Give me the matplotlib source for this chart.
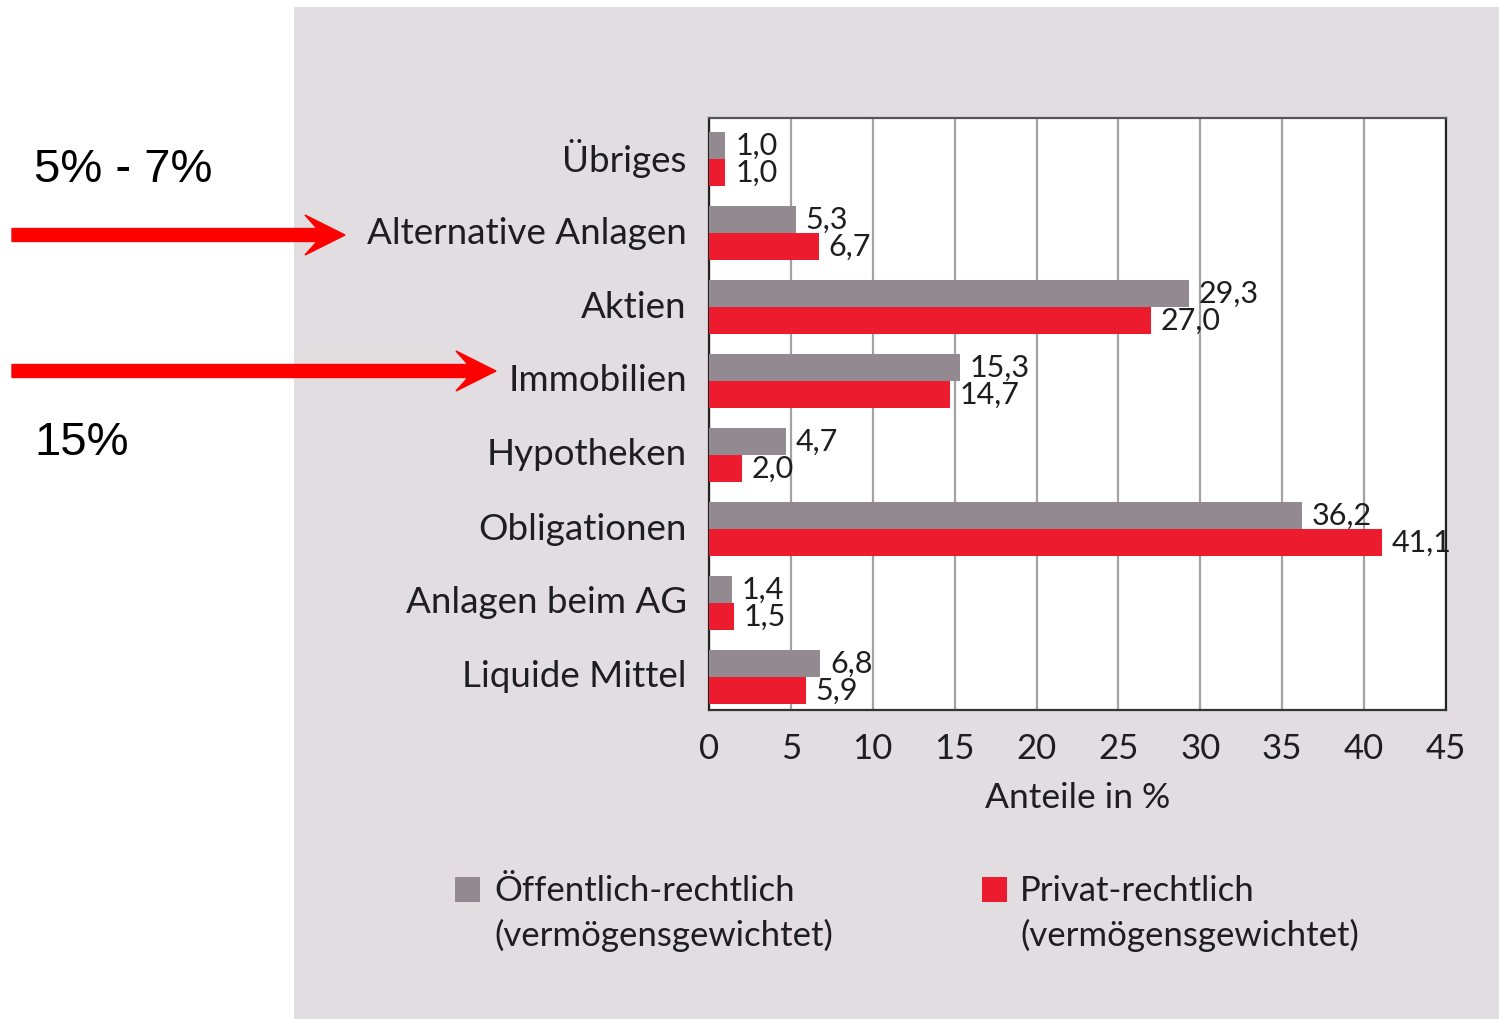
import matplotlib
matplotlib.use("Agg")
import matplotlib.pyplot as plt
from matplotlib.patches import Rectangle, FancyArrow
import numpy as np

# ---- data ----
categories = ["Übriges", "Alternative Anlagen", "Aktien", "Immobilien",
              "Hypotheken", "Obligationen", "Anlagen beim AG", "Liquide Mittel"]
public_vals = [1.0, 5.3, 29.3, 15.3, 4.7, 36.2, 1.4, 6.8]
private_vals = [1.0, 6.7, 27.0, 14.7, 2.0, 41.1, 1.5, 5.9]
xticks = [0, 5, 10, 15, 20, 25, 30, 35, 40, 45]
legend_labels = ["Öffentlich-rechtlich\n(vermögensgewichtet)",
                 "Privat-rechtlich\n(vermögensgewichtet)"]
xlabel = "Anteile in %"
annot_texts = ["5% - 7%", "15%"]

GREY = "#928a90"
RED = "#ec1c2e"
PANEL = "#e1dde1"
TXT = "#1e1e1e"
FONT = ["Lato", "DejaVu Sans"]

W, H = 1499, 1020
fig = plt.figure(figsize=(W / 100, H / 100), dpi=100)
fig.patch.set_facecolor("white")

def fx(px):
    return px / W

def fy(py):
    return 1 - py / H

# grey panel
fig.patches.append(Rectangle((fx(294), 0), 1 - fx(294), fy(8), transform=fig.transFigure,
                             facecolor=PANEL, edgecolor="none", zorder=-5))

ax = fig.add_axes([fx(709), fy(711), fx(1446) - fx(709), fy(119) - fy(711)])
ax.set_zorder(1)
ax.set_facecolor("white")

y = np.arange(len(categories))
h = 0.365
off = 0.05
ax.barh(y - h / 2 + off, public_vals, height=h, color=GREY, zorder=3)
ax.barh(y + h / 2 + off, private_vals, height=h, color=RED, zorder=3)

def fmt(v):
    return f"{v:.1f}".replace(".", ",")

for yi, v in zip(y, public_vals):
    ax.annotate(fmt(v), (v, yi - h / 2 + off), xytext=(7, 0), textcoords="offset points",
                va="center", ha="left", fontsize=22, color=TXT, family=FONT, zorder=4)
for yi, v in zip(y, private_vals):
    ax.annotate(fmt(v), (v, yi + h / 2 + off), xytext=(7, 0), textcoords="offset points",
                va="center", ha="left", fontsize=22, color=TXT, family=FONT, zorder=4)

ax.set_xlim(0, 45)
ax.set_ylim(len(categories) - 0.5, -0.5)
ax.set_xticks(xticks)
ax.set_xticklabels([str(t) for t in xticks], fontsize=25, family=FONT, color=TXT)
ax.set_yticks(y)
ax.set_yticklabels(categories, fontsize=26.5, family=FONT, color=TXT)
ax.tick_params(axis="x", which="major", length=0, pad=16)
ax.tick_params(axis="y", which="major", length=0, pad=16)
ax.set_xticks([0], minor=True)
ax.tick_params(axis="x", which="minor", length=8, width=1.5, color="#222222", direction="out")
ax.xaxis.grid(True, color="#a3a3a3", linewidth=1.6, zorder=1)
ax.set_axisbelow(True)
ax.set_xlabel(xlabel, fontsize=25.5, family=FONT, color=TXT, labelpad=12)

for side, col in [("bottom", "#333333"), ("left", "#222222"), ("top", "#555555"), ("right", "#222222")]:
    ax.spines[side].set_color(col)
    ax.spines[side].set_linewidth(1.6)
    ax.spines[side].set_zorder(2)

# legend (manual)
for (sx, tx, col, lab) in [(455, 494, GREY, legend_labels[0]), (982, 1020, RED, legend_labels[1])]:
    fig.patches.append(Rectangle((fx(sx), fy(903)), fx(25), fy(878) - fy(903),
                                 transform=fig.transFigure, facecolor=col, edgecolor="none"))
    fig.text(fx(tx), fy(875), lab, fontsize=25, family=FONT, color=TXT,
             ha="left", va="top", linespacing=1.45)

# arrows and annotations
for (tip, ypx) in [(345, 236), (496, 372)]:
    fig.patches.append(FancyArrow(fx(12), fy(ypx), fx(tip) - fx(12), 0,
                                  width=13 / H, head_width=40 / H, head_length=fx(40),
                                  length_includes_head=True, overhang=0.3,
                                  transform=fig.transFigure, color="#ff0000", zorder=5))

fig.text(fx(34), fy(170), annot_texts[0], fontsize=34, family=["Liberation Sans", "DejaVu Sans"],
         color="black", ha="left", va="center")
fig.text(fx(34), fy(443), annot_texts[1], fontsize=34, family=["Liberation Sans", "DejaVu Sans"],
         color="black", ha="left", va="center")

fig.savefig("out.png", dpi=100)
